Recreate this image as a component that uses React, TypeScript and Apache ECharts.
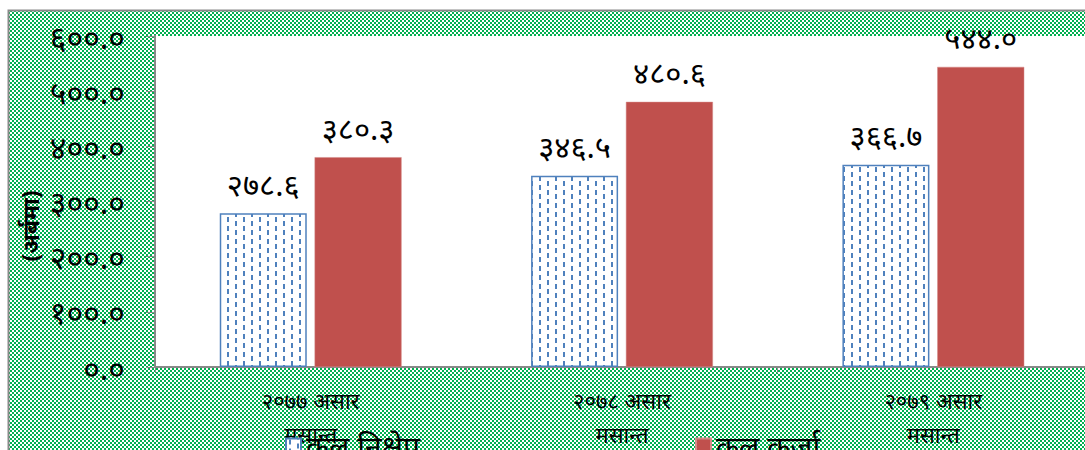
import React, { useEffect, useRef } from "react";
import * as echarts from "echarts";

const categories = ["२०७७ असार\nमसान्त", "२०७८ असार\nमसान्त", "२०७९ असार\nमसान्त"];
const depositName = "कुल निक्षेप";
const loanName = "कुल कर्जा";
const deposits = [278.6, 346.5, 366.7];
const loans = [380.3, 480.6, 544.0];
const yMin = 0;
const yMax = 600;
const yInterval = 100;
const yAxisName = "(अर्बमा)";

const DEV = "०१२३४५६७८९";
const toDev = (v: number) => v.toFixed(1).replace(/\d/g, (d) => DEV[+d]);

const FONT = "'Noto Sans', 'Noto Sans Devanagari', 'Lohit Devanagari', 'FreeSans', sans-serif";

function checkerPattern() {
  const c = document.createElement("canvas");
  c.width = 4;
  c.height = 4;
  const ctx = c.getContext("2d")!;
  ctx.fillStyle = "#ffffff";
  ctx.fillRect(0, 0, 4, 4);
  ctx.fillStyle = "#00b050";
  ctx.fillRect(0, 0, 2, 2);
  ctx.fillRect(2, 2, 2, 2);
  return { image: c.toDataURL(), repeat: "repeat", imageWidth: 4, imageHeight: 4 };
}

function dashPattern() {
  const c = document.createElement("canvas");
  c.width = 16;
  c.height = 18;
  const ctx = c.getContext("2d")!;
  ctx.fillStyle = "#ffffff";
  ctx.fillRect(0, 0, 16, 18);
  ctx.fillStyle = "#4f81bd";
  ctx.fillRect(3, 1, 2, 5);
  ctx.fillRect(3, 10, 2, 5);
  ctx.fillRect(11, 5, 2, 5);
  ctx.fillRect(11, 14, 2, 4);
  ctx.fillRect(11, 0, 2, 1);
  return { image: c.toDataURL(), repeat: "repeat", imageWidth: 16, imageHeight: 18 };
}

export default function App() {
  const ref = useRef<HTMLDivElement>(null);
  useEffect(() => {
    if (!ref.current) return;
    const chart = echarts.init(ref.current, null, { renderer: "svg" });
    const dash = dashPattern();
    const option: any = {
      animation: false,
      backgroundColor: "#ffffff",
      textStyle: { fontFamily: FONT },
      graphic: [
        {
          type: "rect",
          z: -10,
          silent: true,
          shape: { x: 8.5, y: 10.5, width: 1200, height: 600 },
          style: { fill: checkerPattern(), stroke: "#898989", lineWidth: 2 },
        },
        {
          type: "text",
          x: 30,
          y: 226,
          rotation: Math.PI / 2,
          style: {
            text: yAxisName,
            fontSize: 23,
            fontWeight: "bold",
            fontFamily: FONT,
            fill: "#000",
            align: "center",
            verticalAlign: "middle",
          },
        },
      ],
      legend: [
        {
          data: [depositName],
          left: 280,
          top: 426,
          itemWidth: 15,
          itemHeight: 15,
          icon: "rect",
          textStyle: { fontSize: 30, color: "#000", fontFamily: FONT },
        },
        {
          data: [loanName],
          left: 690,
          top: 426,
          itemWidth: 15,
          itemHeight: 15,
          icon: "rect",
          textStyle: { fontSize: 30, color: "#000", fontFamily: FONT },
        },
      ],
      grid: {
        left: 155,
        top: 36,
        width: 934,
        height: 331,
        show: true,
        backgroundColor: "#ffffff",
        borderWidth: 0,
      },
      xAxis: {
        type: "category",
        data: categories,
        axisLine: { lineStyle: { color: "#898989", width: 2 } },
        axisTick: { show: true, length: 6, lineStyle: { color: "#898989" } },
        axisLabel: {
          fontSize: 22,
          lineHeight: 34,
          margin: 16,
          color: "#000",
          fontFamily: FONT,
        },
      },
      yAxis: {
        type: "value",
        min: yMin,
        max: yMax,
        interval: yInterval,
        splitLine: { show: false },
        axisLine: { show: true, lineStyle: { color: "#898989", width: 2 } },
        axisTick: { show: true, length: 9, lineStyle: { color: "#898989" } },
        axisLabel: {
          fontSize: 32,
          margin: 30,
          color: "#000",
          fontFamily: FONT,
          formatter: (v: number) => toDev(v),
        },
      },
      series: [
        {
          name: depositName,
          type: "bar",
          data: deposits,
          barWidth: 87,
          barGap: "9%",
          itemStyle: { color: dash, borderColor: "#4f81bd", borderWidth: 1.5 },
          label: {
            show: true,
            position: "top",
            distance: 14,
            fontSize: 31,
            color: "#000",
            fontFamily: FONT,
            formatter: (p: any) => toDev(p.value),
          },
        },
        {
          name: loanName,
          type: "bar",
          data: loans,
          barWidth: 87,
          itemStyle: { color: "#c0504d", borderColor: "#d48a88", borderWidth: 0.5 },
          label: {
            show: true,
            position: "top",
            distance: 14,
            fontSize: 31,
            color: "#000",
            fontFamily: FONT,
            formatter: (p: any) => toDev(p.value),
          },
        },
      ],
    };
    chart.setOption(option);
    return () => chart.dispose();
  }, []);
  return (
    <div
      style={{
        position: "fixed",
        left: 0,
        top: 0,
        width: 1085,
        height: 450,
        overflow: "hidden",
        background: "#fff",
      }}
    >
      <div ref={ref} style={{ width: 1100, height: 470 }} />
    </div>
  );
}
